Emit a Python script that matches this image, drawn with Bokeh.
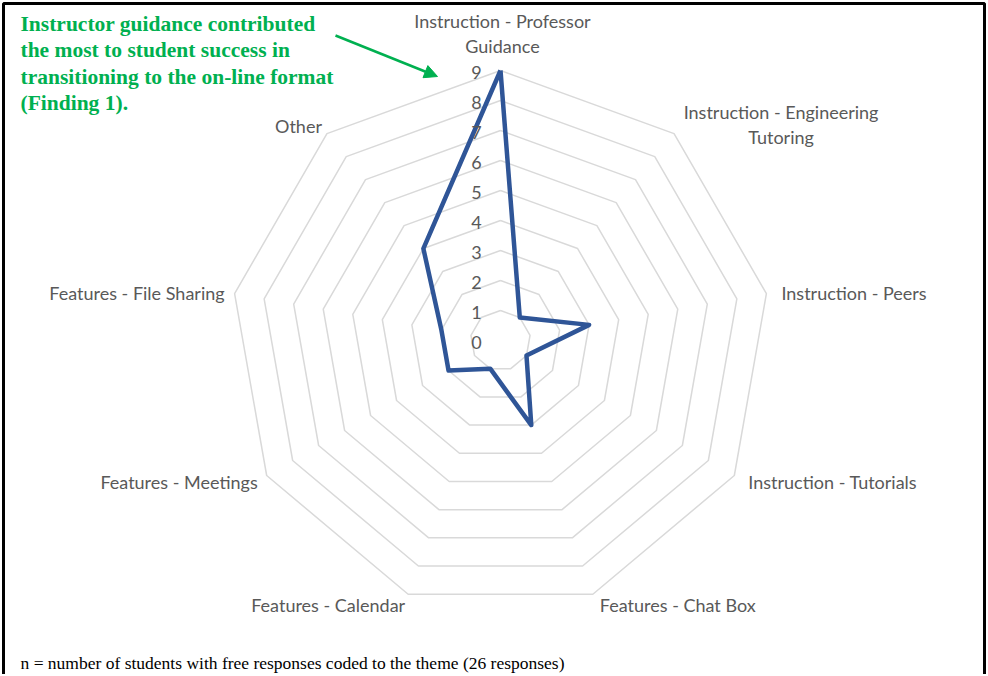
import numpy as np
from bokeh.plotting import figure
from bokeh.models import Range1d, Arrow, NormalHead
from bokeh.core.properties import value
from bokeh.embed import file_html
from bokeh.resources import INLINE

# ---------------- data ----------------
categories = [
    "Instruction - Professor\nGuidance",
    "Instruction - Engineering\nTutoring",
    "Instruction - Peers",
    "Instruction - Tutorials",
    "Features - Chat Box",
    "Features - Calendar",
    "Features - Meetings",
    "Features - File Sharing",
    "Other",
]
counts = [9, 1, 3, 1, 3, 1, 2, 2, 4]
ticks = [0, 1, 2, 3, 4, 5, 6, 7, 8, 9]
annotation_lines = [
    "Instructor  guidance contributed",
    "the most to student success in",
    "transitioning  to the on-line format",
    "(Finding 1).",
]
footnote = "n = number of students with free responses coded to the theme (26 responses)"

# ---------------- layout ----------------
W, H = 986, 674
PX = 30.0                 # pixels per value unit
CXS, CYS = 500.0, 340.0   # centre of radar in page pixels
OFF = 0.0                 # where the canvas starts on the page

def sx(x):  # page pixel -> data x
    return (x - CXS) / PX

def sy(y):  # page pixel -> data y
    return (CYS - y) / PX

p = figure(width=W, height=H,
           x_range=Range1d(sx(OFF), sx(OFF + W)),
           y_range=Range1d(sy(OFF + H), sy(OFF)),
           output_backend="svg", toolbar_location=None,
           min_border=0, min_border_left=0, min_border_right=0,
           min_border_top=0, min_border_bottom=0)
p.axis.visible = False
p.grid.visible = False
p.outline_line_color = None
p.background_fill_color = "white"
p.border_fill_color = "white"

# frame (left, top, right)
p.line([sx(3), sx(3), sx(984), sx(984)], [sy(H + 5), sy(3), sy(3), sy(H + 5)],
       line_color="black", line_width=3)

n = len(categories)
theta = np.deg2rad(90 - 360.0 / n * np.arange(n))

GRID = "#d9d9d9"
TXT = "#595959"
BLUE = "#2F5597"
GREEN = "#00B050"
FONT = "Lato"

# rings
max_tick = max(ticks)
ring_xs, ring_ys = [], []
for k in ticks[1:]:
    xs = list(k * np.cos(theta)) + [k * np.cos(theta[0])]
    ys = list(k * np.sin(theta)) + [k * np.sin(theta[0])]
    ring_xs.append(xs)
    ring_ys.append(ys)
p.multi_line(ring_xs, ring_ys, line_color=GRID, line_width=1.5)

# series
vx = [c * np.cos(t) for c, t in zip(counts, theta)]
vy = [c * np.sin(t) for c, t in zip(counts, theta)]
p.line(vx + [vx[0]], vy + [vy[0]], line_color=BLUE, line_width=4.5, line_join="round")

# value axis labels
p.text(x=[0] * len(ticks), y=ticks, text=[str(t) for t in ticks],
       x_offset=-24, y_offset=2, text_align="center", text_baseline="middle",
       text_color=TXT, text_font=value(FONT), text_font_size="18px")

# category labels (align, baseline, dx, dy) in pixels from outer vertex
label_layout = [
    ("center", "bottom", 2, -13),
    ("center", "middle", 107, -9),
    ("left", "middle", 15, -1),
    ("left", "middle", 14, 6),
    ("left", "middle", 7, 11),
    ("right", "middle", -3, 11),
    ("right", "middle", -9, 6),
    ("right", "middle", -10, -1),
    ("right", "middle", -5, -8),
]
for cat, t, (al, bl, dx, dy) in zip(categories, theta, label_layout):
    p.text(x=[max_tick * np.cos(t)], y=[max_tick * np.sin(t)], text=[cat],
           x_offset=dx, y_offset=dy, text_align=al, text_baseline=bl,
           text_color=TXT, text_font=value(FONT), text_font_size="18px",
           text_line_height=1.15)

# annotation
for i, line in enumerate(annotation_lines):
    p.text(x=[sx(20)], y=[sy(23 + 26.5 * i)], text=[line],
           text_align="left", text_baseline="middle",
           text_color=GREEN, text_font=value("Liberation Serif"),
           text_font_style="bold", text_font_size="21.5px")

p.add_layout(Arrow(x_start=sx(335), y_start=sy(35), x_end=sx(437), y_end=sy(76),
                   line_color=GREEN, line_width=2.5,
                   end=NormalHead(size=13, fill_color=GREEN, line_color=GREEN)))

# footnote
p.text(x=[sx(20)], y=[sy(662)], text=[footnote], text_align="left",
       text_baseline="middle", text_color="black",
       text_font=value("Liberation Serif"), text_font_size="17.5px")

open("out.html", "w").write(file_html(p, INLINE))
